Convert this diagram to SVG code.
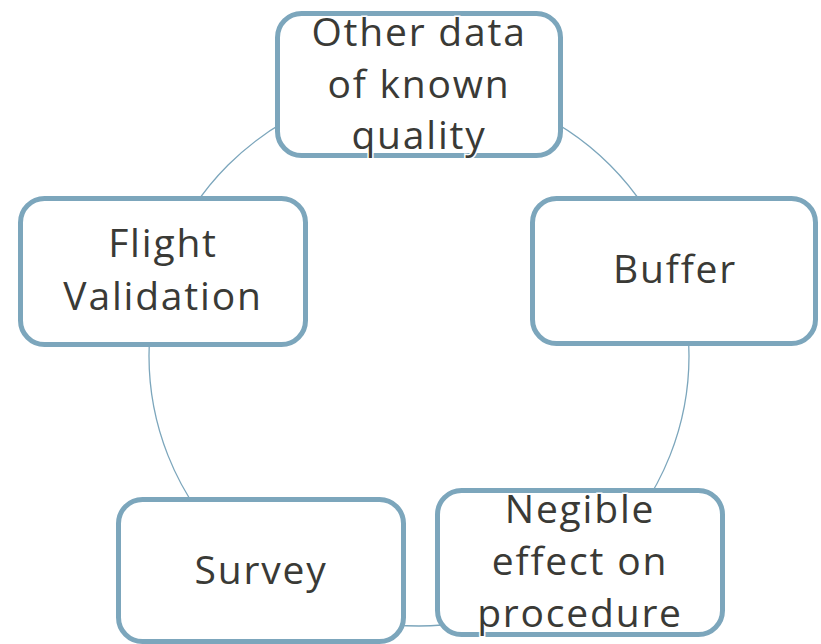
<svg xmlns="http://www.w3.org/2000/svg" width="821" height="644" viewBox="0 0 821 644">
  <style>
    .box { fill: #ffffff; stroke: #7ca6bc; stroke-width: 5; }
    .ring { fill: none; stroke: #7ca6bc; stroke-width: 1.3; }
    .lbl { font-family: "Open Sans", "Liberation Sans", sans-serif; font-size: 39px; letter-spacing: 1.8px; fill: #3a3a36; text-anchor: middle; stroke: #ffffff; stroke-width: 3; paint-order: stroke; }
  </style>
  <rect width="821" height="644" fill="#ffffff"/>
  <!-- cycle ring linking the five stages -->
  <g id="connectors">
    <circle class="ring" cx="419" cy="356" r="270"/>
  </g>
  <g id="node-other-data">
    <rect class="box" x="277.5" y="13.5" width="283" height="142" rx="24"/>
    <text class="lbl" x="419" y="46">Other data</text>
    <text class="lbl" x="419" y="98">of known</text>
    <text class="lbl" x="419" y="149">quality</text>
  </g>
  <g id="node-buffer">
    <rect class="box" x="532.5" y="198.5" width="283" height="145" rx="24"/>
    <text class="lbl" x="675" y="283">Buffer</text>
  </g>
  <g id="node-negible">
    <rect class="box" x="437.5" y="490.5" width="285" height="144" rx="24"/>
    <text class="lbl" x="580" y="523">Negible</text>
    <text class="lbl" x="580" y="575">effect on</text>
    <text class="lbl" x="580" y="627">procedure</text>
  </g>
  <g id="node-survey">
    <rect class="box" x="118.5" y="499.5" width="285" height="142" rx="24"/>
    <text class="lbl" x="261" y="584">Survey</text>
  </g>
  <g id="node-flight-validation">
    <rect class="box" x="20.5" y="198.5" width="285" height="146" rx="24"/>
    <text class="lbl" x="163" y="257">Flight</text>
    <text class="lbl" x="163" y="310">Validation</text>
  </g>
</svg>
